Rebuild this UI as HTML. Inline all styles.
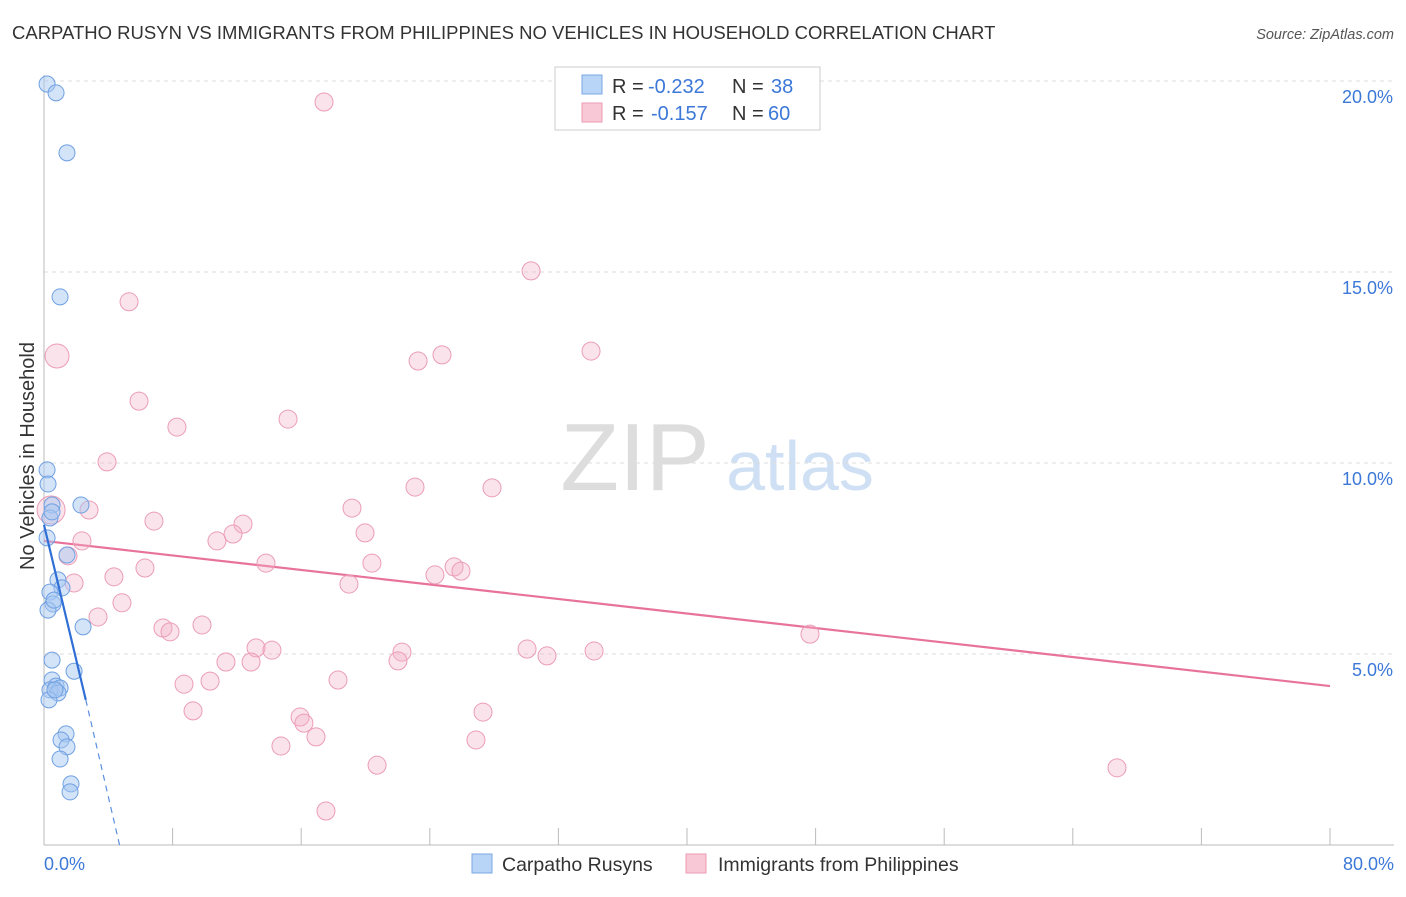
<!DOCTYPE html>
<html><head><meta charset="utf-8"><style>
body{margin:0;background:#fff;font-family:"Liberation Sans",sans-serif;}
svg text{font-family:"Liberation Sans",sans-serif;}
</style></head><body>
<svg id="chart" width="1406" height="892" xmlns="http://www.w3.org/2000/svg">
<text x="12" y="39" font-size="18.5" fill="#333">CARPATHO RUSYN VS IMMIGRANTS FROM PHILIPPINES NO VEHICLES IN HOUSEHOLD CORRELATION CHART</text>
<text x="1394" y="39" font-size="14.5" fill="#555" font-style="italic" text-anchor="end">Source: ZipAtlas.com</text>
<g>
<text x="635" y="490" font-size="96" fill="#ddd" font-family="Liberation Serif" text-anchor="middle">ZIP</text>
<text x="800" y="490" font-size="70" fill="#cfe0f4" text-anchor="middle">atlas</text>
</g>
<g id="grid"></g>
<g id="axes"></g>
<text transform="translate(34,456) rotate(-90)" font-size="20" fill="#333" text-anchor="middle">No Vehicles in Household</text>
<g id="trend"></g>
<g id="points"></g>
<g>
<rect x="555" y="67" width="265" height="63" fill="#fff" stroke="#ccc"/>
<rect x="582" y="75" width="20" height="19" fill="#b8d4f6" stroke="#7aa8e4"/>
<rect x="582" y="103" width="20" height="19" fill="#f8c8d6" stroke="#ec9cb4"/>
<text x="612" y="93" font-size="20" fill="#333">R =</text>
<text x="648" y="93" font-size="20" fill="#3c78d8">-0.232</text>
<text x="732" y="93" font-size="20" fill="#333">N =</text>
<text x="771" y="93" font-size="20" fill="#3c78d8">38</text>
<text x="612" y="120" font-size="20" fill="#333">R =</text>
<text x="651" y="120" font-size="20" fill="#3c78d8">-0.157</text>
<text x="732" y="120" font-size="20" fill="#333">N =</text>
<text x="768" y="120" font-size="20" fill="#3c78d8">60</text>
</g>
<g>
<rect x="472" y="854" width="20" height="19" fill="#b8d4f6" stroke="#7aa8e4"/>
<text x="502" y="871" font-size="19.5" fill="#333">Carpatho Rusyns</text>
<rect x="686" y="854" width="20" height="19" fill="#f8c8d6" stroke="#ec9cb4"/>
<text x="718" y="871" font-size="19.5" fill="#333">Immigrants from Philippines</text>
</g>
</svg>
<script>
const yTicks=[5,10,15,20];
const yTickLabels=["5.0%","10.0%","15.0%","20.0%"];
const xTicks=[0,8,16,24,32,40,48,56,64,72,80];
const xEndLabels=["0.0%","80.0%"];
const blueX=[0.19,0.75,1.43,1.0,0.19,0.25,0.5,2.3,0.37,0.5,0.19,1.43,0.87,1.12,0.37,0.56,0.25,2.43,0.5,1.87,0.5,0.75,1.0,0.37,0.87,0.31,1.37,1.06,1.43,1.0,1.68,1.62,0.62,0.68];
const blueY=[19.92,19.69,18.12,14.35,9.82,9.45,8.9,8.9,8.56,8.72,8.04,7.59,6.94,6.73,6.62,6.31,6.15,5.71,4.84,4.55,4.32,4.16,4.11,4.06,3.98,3.80,2.91,2.75,2.57,2.25,1.60,1.39,6.41,4.06];
const pinkX=[17.42,30.30,5.29,0.81,23.27,24.76,34.03,5.91,15.18,8.27,3.92,23.08,27.87,2.80,0.44,6.84,19.16,12.38,19.97,10.76,2.36,11.76,1.49,6.28,13.81,20.40,25.51,25.94,24.32,4.35,18.97,1.87,4.85,3.36,7.40,7.84,9.83,47.65,13.19,14.18,30.05,34.22,31.29,22.27,22.02,11.32,12.88,18.29,10.33,8.71,9.27,27.31,15.93,16.17,16.92,14.74,26.87,20.72,66.75,17.54];
const pinkY=[19.45,15.03,14.22,12.80,12.67,12.83,12.93,11.62,11.15,10.94,10.03,9.37,9.35,8.77,8.77,8.48,8.82,8.40,8.17,7.96,7.96,8.14,7.57,7.25,7.38,7.38,7.28,7.17,7.07,7.02,6.83,6.86,6.34,5.97,5.68,5.58,5.76,5.52,5.16,5.10,5.13,5.08,4.95,5.05,4.82,4.79,4.79,4.32,4.29,4.21,3.51,3.48,3.35,3.19,2.83,2.59,2.75,2.09,2.02,0.89];
const pinkSize=[9,9,9,12,9,9,9,9,9,9,9,9,9,9,14,9,9,9,9,9,9,9,9,9,9,9,9,9,9,9,9,9,9,9,9,9,9,9,9,9,9,9,9,9,9,9,9,9,9,9,9,9,9,9,9,9,9,9,9,9];
const blueTrend=[[0,8.38],[2.6,3.80]];
const blueDash=[[2.6,3.80],[4.7,0]];
const pinkTrend=[[0,7.96],[80,4.16]];

const NS="http://www.w3.org/2000/svg";
const sx=v=>44+v/80*1286;
const sy=v=>845-v*38.2;
function mk(tag,attrs,parent){const e=document.createElementNS(NS,tag);for(const k in attrs)e.setAttribute(k,attrs[k]);parent.appendChild(e);return e;}
const grid=document.getElementById('grid'),axes=document.getElementById('axes'),trend=document.getElementById('trend'),pts=document.getElementById('points');
yTicks.forEach((t,i)=>{
 const l=mk('line',{x1:44,x2:1394,y1:sy(t),y2:sy(t),stroke:'#ddd','stroke-dasharray':'4,4'},grid);
 
 
 const tx=mk('text',{x:1393,y:sy(t)+22,'font-size':18,fill:'#3c78d8','text-anchor':'end'},axes);
 tx.textContent=yTickLabels[i];
 
 
});
const ya=mk('line',{x1:44,x2:44,y1:75,y2:845,stroke:'#bbb'},axes);


const xa=mk('line',{x1:44,x2:1394,y1:845,y2:845,stroke:'#bbb'},axes);


xTicks.forEach(t=>{
 const l=mk('line',{x1:sx(t),x2:sx(t),y1:828,y2:845,stroke:'#bbb'},axes);
 
 
});
[[0,'start',44],[80,'end',1394]].forEach((d,i)=>{
 const tx=mk('text',{x:d[2],y:870,'font-size':18,fill:'#3c78d8','text-anchor':d[1]},axes);
 tx.textContent=xEndLabels[i];
 
 
});
pinkX.forEach((x,i)=>{
 const c=mk('circle',{cx:sx(x),cy:sy(pinkY[i]),r:pinkSize[i],fill:'rgba(244,176,198,0.35)',stroke:'#eb9db6','stroke-width':1},pts);
 
 
});
blueX.forEach((x,i)=>{
 const c=mk('circle',{cx:sx(x),cy:sy(blueY[i]),r:8,fill:'rgba(168,200,242,0.5)',stroke:'#6fa0e2','stroke-width':1},pts);
 
 
});
const pl=mk('line',{x1:sx(pinkTrend[0][0]),y1:sy(pinkTrend[0][1]),x2:sx(pinkTrend[1][0]),y2:sy(pinkTrend[1][1]),stroke:'#e8739a','stroke-width':2.2},trend);


const bl=mk('line',{x1:sx(blueTrend[0][0]),y1:sy(blueTrend[0][1]),x2:sx(blueTrend[1][0]),y2:sy(blueTrend[1][1]),stroke:'#2f6fd6','stroke-width':2.2},pts);


const bd=mk('line',{x1:sx(blueDash[0][0]),y1:sy(blueDash[0][1]),x2:sx(blueDash[1][0]),y2:sy(blueDash[1][1]),stroke:'#5a8fe0','stroke-width':1.2,'stroke-dasharray':'6,5'},pts);


</script>
</body></html>
